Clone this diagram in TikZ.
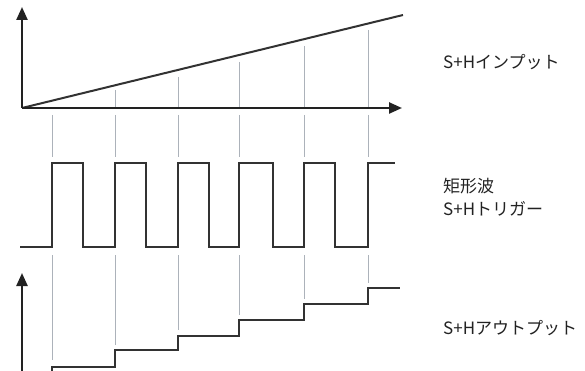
\documentclass[tikz,border=0pt]{standalone}
\usepackage{fontspec}
\newfontfamily\jp{Noto Sans CJK JP}
\usetikzlibrary{arrows.meta}
\definecolor{ink}{RGB}{34,34,34}
\definecolor{wave}{RGB}{50,50,50}
\definecolor{guide}{RGB}{172,178,186}
\begin{document}
\begin{tikzpicture}[x=1pt,y=-1pt,
  axisline/.style={line width=2.4pt, draw=ink, -{Triangle[length=13pt,width=11pt]}},
  sigline/.style={line width=2pt, draw=wave, line join=miter},
  guideline/.style={line width=1pt, draw=guide},
  lbl/.style={anchor=west, inner sep=0pt, text=ink, font=\jp\fontsize{17}{20}\selectfont, align=left}]
\useasboundingbox (0,0) rectangle (585,371);
% coordinates
\coordinate (O) at (22,108);
\coordinate (Ytop) at (22,7);
\coordinate (Xend) at (402,108);
\coordinate (Rend) at (403,15);
\coordinate (B0) at (22,372);
\coordinate (Btop) at (22,273);
% guide lines: top panel (above axis)
\foreach \x/\y in {115/90,178/77,239/62,304/46,368/30}
  \draw[guideline] (\x,\y) -- (\x,108);
% guide lines between axis and square wave
\foreach \x in {52,115,178,239,304,368}
  \draw[guideline] (\x,115) -- (\x,157);
% guide lines between square wave and staircase
\foreach \x/\y in {52/360,115/345,178/330,239/315,304/299,368/283}
  \draw[guideline] (\x,255) -- (\x,\y);
% input ramp
\draw[sigline] (O) -- (Rend);
\draw[axisline] (O) -- (Ytop);
\draw[axisline] (O) -- (Xend);
% square wave trigger
\draw[sigline] (20,247) -- (52,247) -- (52,163) -- (83,163) -- (83,247) -- (115,247)
  -- (115,163) -- (146,163) -- (146,247) -- (178,247) -- (178,163) -- (209,163)
  -- (209,247) -- (239,247) -- (239,163) -- (273,163) -- (273,247) -- (304,247)
  -- (304,163) -- (335,163) -- (335,247) -- (368,247) -- (368,163) -- (395,163);
% staircase output
\draw[sigline, line width=2.2pt] (52,372) -- (52,367) -- (115,367) -- (115,350) -- (178,350)
  -- (178,336) -- (239,336) -- (239,320) -- (304,320) -- (304,304) -- (368,304)
  -- (368,288) -- (400,288);
\draw[axisline] (B0) -- (Btop);
% labels
\node[lbl] (lin) at (443,62) {S+Hインプット};
\node[lbl] (ltrig1) at (443,186) {矩形波};
\node[lbl] (ltrig2) at (443,209) {S+Hトリガー};
\node[lbl] (lout) at (443,328) {S+Hアウトプット};
\end{tikzpicture}
\end{document}
